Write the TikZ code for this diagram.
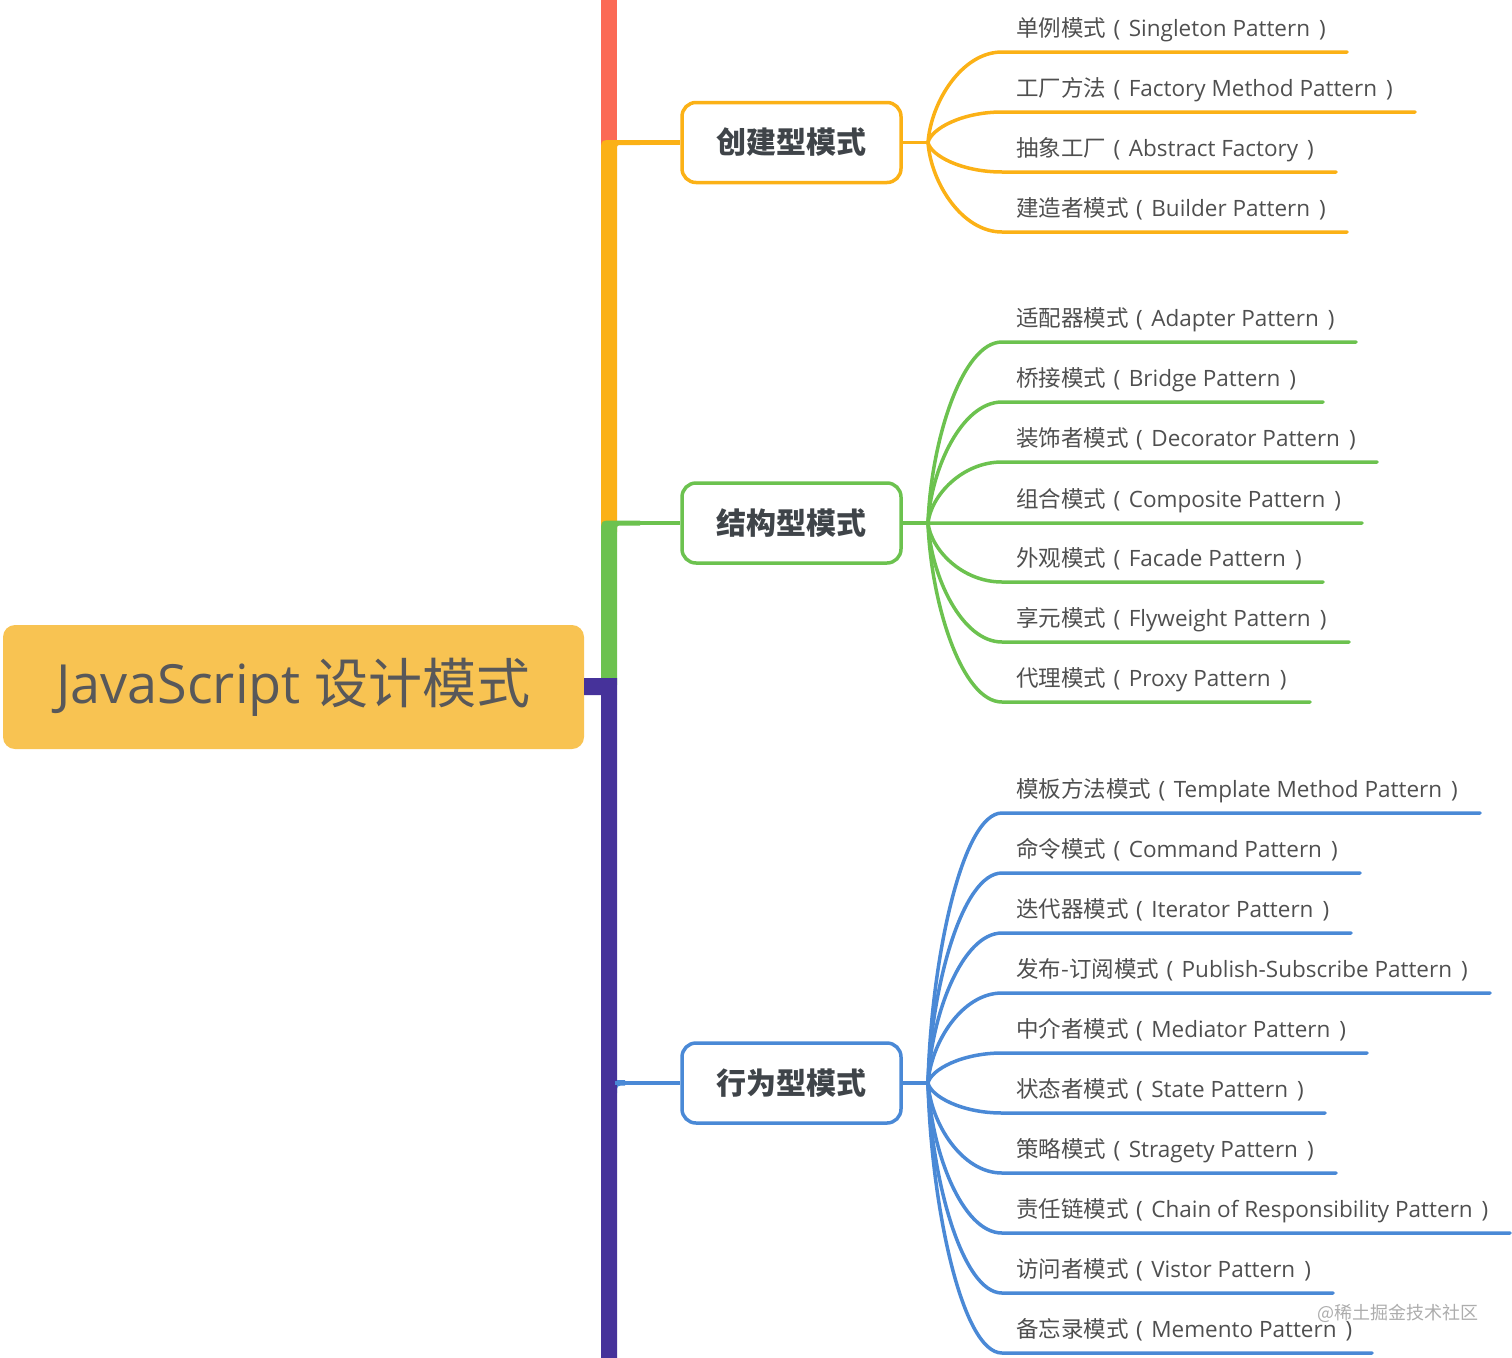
\documentclass[tikz,border=0pt]{standalone}
\usepackage{fontspec}
\setmainfont{Open Sans}
\newfontfamily\cjk{Noto Sans CJK SC}
\newcommand{\zh}[1]{{\cjk #1}}
\newcommand{\leaflabel}[2]{\zh{#1}\hspace{7.5pt}(\hspace{8.5pt}#2\hspace{9pt})}
\definecolor{cred}{HTML}{FB6A55}
\definecolor{corange}{HTML}{FBB116}
\definecolor{cgreen}{HTML}{6CC24F}
\definecolor{cpurple}{HTML}{46329A}
\definecolor{cblue}{HTML}{4A89D6}
\definecolor{rootfill}{HTML}{F8C352}
\definecolor{rootgray}{HTML}{58585A}
\definecolor{catgray}{HTML}{3F4449}
\definecolor{leafgray}{HTML}{4F4F4F}
\begin{document}
\begin{tikzpicture}[x=1pt,y=-1pt,
  rootbox/.style={fill=rootfill, rounded corners=12, minimum width=581, minimum height=124, inner sep=0, text=rootgray, font=\fontsize{54}{54}\selectfont},
  catbox/.style={draw=#1, fill=white, line width=3.5, rounded corners=14, minimum width=219, minimum height=80, inner sep=0, text=catgray, font=\cjk\bfseries\fontsize{30}{30}\selectfont},
  leaftext/.style={anchor=base west, inner sep=0, text=leafgray, font=\fontsize{22.5}{22.5}\selectfont},
  leafline/.style={draw=#1, line width=3.5, line cap=round},
  stub/.style={draw=#1, line width=4.5},
  wmark/.style={text=black!32, font=\cjk\fontsize{18}{18}\selectfont, inner sep=0}
]
\useasboundingbox (0,0) rectangle (1512,1357);

% root
\node[rootbox] (root) at (293.5,687) {JavaScript \zh{设计模式}};

% trunk pieces
\fill[cred] (601,-5) rectangle (617,152);
\fill[corange] (601,532) -- (601,152) .. controls (601,140) .. (613,140) -- (640,140) -- (640,145) -- (622,145) .. controls (617,145) .. (617,150) -- (617,532) -- cycle;
\fill[cgreen] (601,685) -- (601,533) .. controls (601,520.5) .. (613,520.5) -- (640,520.5) -- (640,525.5) -- (622,525.5) .. controls (617,525.5) .. (617,530.5) -- (617,685) -- cycle;
\fill[cpurple] (root.east |- 0,678) -- (617,678) -- (617,1362) -- (601,1362) -- (601,695) -- (root.east |- 0,695) -- cycle;
\fill[cblue] (617,1080) -- (617,1093) .. controls (617,1085.5) .. (625,1085.5) -- (625,1080) -- cycle;

% category boxes
\node[catbox=corange] (c1) at (791.5,142.5) {创建型模式};
\node[catbox=cgreen] (c2) at (791.5,523) {结构型模式};
\node[catbox=cblue] (c3) at (791.5,1083) {行为型模式};

\coordinate (s1) at (612,142.5);
\coordinate (s2) at (612,523);
\coordinate (s3) at (615,1083);
\draw[stub=corange] (s1) -- (c1.west);
\draw[stub=cgreen] (s2) -- (c2.west);
\draw[stub=cblue] (s3) -- (c3.west);

\coordinate (f1) at (928,142.5);
\coordinate (f2) at (928,523);
\coordinate (f3) at (928,1083);
\draw[leafline=corange] (c1.east) -- (f1);
\draw[leafline=cgreen] (c2.east) -- (f2);
\draw[leafline=cblue] (c3.east) -- (f3);

% creational leaves
\foreach \i/\y/\e/\t in {
  1/52/1347/{\leaflabel{单例模式}{Singleton Pattern}},
  2/112/1415/{\leaflabel{工厂方法}{Factory Method Pattern}},
  3/172/1336/{\leaflabel{抽象工厂}{Abstract Factory}},
  4/232/1347/{\leaflabel{建造者模式}{Builder Pattern}}}{
  \coordinate (a\i s) at (1002,\y);
  \coordinate (a\i e) at (\e,\y);
  \node[leaftext] (a\i) at (1016,\y-16) {\t};
  \draw[leafline=corange] (f1) .. controls (931,0.45*\y+78.4) and (962,\y) .. (a\i s) -- (a\i e);
}

% structural leaves
\foreach \i/\y/\e/\t in {
  1/342/1356/{\leaflabel{适配器模式}{Adapter Pattern}},
  2/402/1323/{\leaflabel{桥接模式}{Bridge Pattern}},
  3/462/1377/{\leaflabel{装饰者模式}{Decorator Pattern}},
  4/523/1362/{\leaflabel{组合模式}{Composite Pattern}},
  5/582/1323/{\leaflabel{外观模式}{Facade Pattern}},
  6/642/1349/{\leaflabel{享元模式}{Flyweight Pattern}},
  7/702/1310/{\leaflabel{代理模式}{Proxy Pattern}}}{
  \coordinate (b\i s) at (1002,\y);
  \coordinate (b\i e) at (\e,\y);
  \node[leaftext] (b\i) at (1016,\y-16) {\t};
  \draw[leafline=cgreen] (f2) .. controls (931,0.45*\y+287.7) and (962,\y) .. (b\i s) -- (b\i e);
}

% behavioral leaves
\foreach \i/\y/\e/\t in {
  1/813/1480/{\leaflabel{模板方法模式}{Template Method Pattern}},
  2/873/1360/{\leaflabel{命令模式}{Command Pattern}},
  3/933/1351/{\leaflabel{迭代器模式}{Iterator Pattern}},
  4/993/1490/{\leaflabel{发布-订阅模式}{Publish-Subscribe Pattern}},
  5/1053/1367/{\leaflabel{中介者模式}{Mediator Pattern}},
  6/1113/1325/{\leaflabel{状态者模式}{State Pattern}},
  7/1173/1336/{\leaflabel{策略模式}{Stragety Pattern}},
  8/1233/1510/{\leaflabel{责任链模式}{Chain of Responsibility Pattern}},
  9/1293/1333/{\leaflabel{访问者模式}{Vistor Pattern}},
  10/1353/1372/{\leaflabel{备忘录模式}{Memento Pattern}}}{
  \coordinate (d\i s) at (1002,\y);
  \coordinate (d\i e) at (\e,\y);
  \node[leaftext] (d\i) at (1016,\y-16) {\t};
  \draw[leafline=cblue] (f3) .. controls (931,0.45*\y+595.7) and (962,\y) .. (d\i s) -- (d\i e);
}

% watermark
\node[wmark] (wm) at (1398,1313) {@稀土掘金技术社区};
\end{tikzpicture}
\end{document}
